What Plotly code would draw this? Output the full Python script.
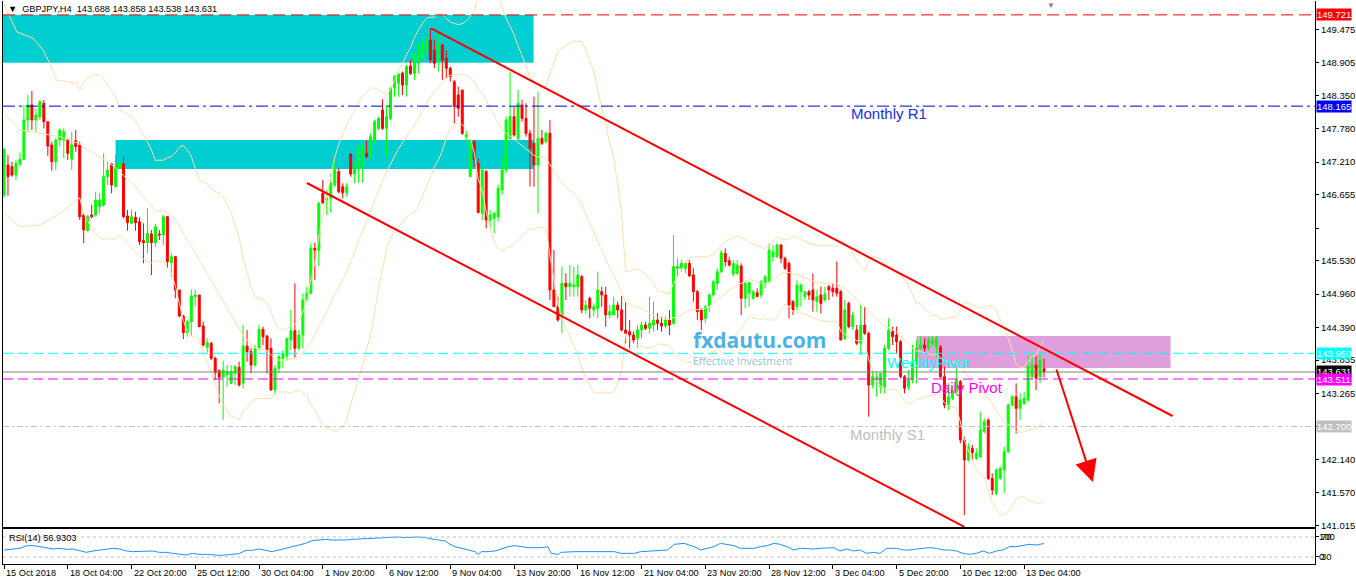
import numpy as np
import pandas as pd
import plotly.graph_objects as go

# ---------------- data (GBPJPY H4) ----------------
bar = list(range(262))
open_ = [
146.649,147.161,147.133,146.990,147.178,147.258,147.928,148.184,147.928,147.985,
148.213,147.900,147.502,147.218,147.587,147.587,147.587,147.258,147.576,147.502,
146.308,146.041,146.308,146.308,146.450,146.479,146.962,147.178,146.791,147.104,
147.178,146.291,146.166,146.268,146.195,145.871,145.837,145.984,145.837,145.984,
145.967,146.280,145.495,145.598,145.029,144.586,144.301,144.489,144.916,144.944,
144.415,144.051,144.120,143.864,143.653,143.540,143.580,143.437,143.608,143.710,
143.437,144.074,143.978,143.750,144.034,144.358,144.245,144.034,143.324,143.693,
143.864,143.904,144.176,144.336,144.034,144.262,144.859,144.972,145.740,145.711,
146.678,146.564,146.593,146.820,147.047,146.791,146.689,147.349,147.008,147.133,
147.332,147.360,147.303,147.559,147.786,148.099,147.786,147.957,148.469,148.554,
148.724,148.525,148.849,148.724,148.895,148.980,149.094,149.293,149.122,149.094,
149.208,148.980,148.810,148.582,148.355,148.440,147.644,146.962,147.559,147.189,
146.337,147.047,146.223,146.251,146.280,146.735,147.076,147.616,147.985,147.616,
148.184,147.957,147.701,147.531,147.161,147.616,147.559,147.701,145.029,144.745,
144.574,145.143,145.086,145.086,145.086,145.257,144.688,144.887,144.688,144.716,
145.001,144.944,144.603,144.603,144.773,144.688,144.347,144.319,144.262,144.205,
144.347,144.432,144.376,144.432,144.517,144.461,144.415,144.517,144.461,145.399,
145.399,145.399,145.484,145.285,145.000,144.688,144.545,144.756,144.943,145.142,
145.341,145.654,145.529,145.302,145.313,145.438,144.887,144.972,144.887,144.983,
144.943,145.131,145.171,145.597,145.597,145.796,145.569,145.483,144.830,144.744,
145.000,144.915,145.000,145.029,144.830,144.943,144.858,145.086,145.057,145.057,
145.000,144.204,144.801,144.403,144.346,144.119,144.432,144.290,143.408,143.494,
143.380,143.380,144.034,144.318,144.261,144.148,143.551,143.380,143.494,143.778,
144.034,144.091,144.034,144.119,144.062,144.051,143.551,143.067,143.181,143.295,
143.465,142.470,142.129,142.328,142.158,142.186,142.613,142.812,141.817,141.561,
141.817,141.959,142.272,143.067,143.209,143.011,143.096,143.153,143.551,143.750,
143.551,143.688]
high = [
147.450,147.332,147.218,147.246,147.377,148.184,148.355,148.423,148.127,148.270,
148.270,147.900,147.559,147.616,147.786,147.786,147.616,147.730,147.758,147.559,
146.337,146.308,146.479,146.706,146.678,147.360,147.218,147.189,147.332,147.587,
147.303,146.394,146.405,146.365,146.268,146.166,146.422,146.052,146.155,146.052,
146.308,146.291,145.654,145.598,145.029,144.603,144.518,145.041,145.029,144.944,
144.489,144.205,144.148,143.892,143.676,143.824,143.750,143.750,143.750,143.807,
144.432,144.347,144.034,144.091,144.432,144.404,144.262,144.205,143.750,143.921,
144.006,144.205,144.688,145.143,144.347,144.972,145.086,145.825,145.837,146.536,
146.905,146.735,147.019,147.258,147.104,146.848,146.848,147.360,147.218,147.485,
147.531,147.576,147.701,147.928,147.985,148.281,148.184,148.497,148.696,148.724,
148.753,148.867,148.952,149.065,149.236,149.236,149.350,149.492,149.293,149.407,
149.236,149.122,148.838,148.611,148.497,148.440,147.758,147.587,147.587,147.275,
147.133,147.076,146.394,146.365,146.820,147.303,147.985,148.753,148.156,148.440,
148.270,148.213,147.758,148.326,148.412,147.758,147.730,147.928,145.711,144.915,
145.427,145.313,145.456,145.427,145.456,145.285,144.859,144.915,144.802,145.342,
145.086,145.086,144.773,144.915,144.830,144.927,144.830,144.517,144.319,144.432,
144.489,144.489,144.915,144.830,144.631,144.574,144.574,144.688,145.967,145.569,
145.541,145.512,145.541,145.399,145.029,144.716,144.773,144.972,145.199,145.398,
145.711,145.739,145.597,145.540,145.540,145.483,145.171,145.171,145.029,145.057,
145.199,145.285,145.825,145.796,145.825,145.813,145.597,145.512,144.858,145.199,
145.142,145.000,145.029,145.313,145.029,145.086,145.086,145.114,145.142,145.512,
145.029,144.858,144.830,144.659,144.432,144.773,144.744,144.318,143.636,143.636,
143.607,144.091,144.545,144.403,144.403,144.176,143.579,143.664,144.091,144.176,
144.233,144.204,144.233,144.233,144.244,144.091,143.722,143.437,143.380,143.693,
143.494,142.527,142.414,142.385,142.328,142.954,142.840,142.840,141.902,141.987,
142.016,142.357,143.096,143.238,143.437,143.266,143.295,143.920,143.948,143.920,
143.960,143.858]
low = [
146.600,146.638,146.962,146.905,147.133,147.246,147.730,147.758,147.730,147.928,
147.786,147.315,147.064,147.076,147.474,147.275,147.246,147.076,147.388,146.223,
145.825,146.024,146.251,146.280,146.337,146.450,146.820,146.678,146.791,147.104,
146.251,146.041,146.155,146.041,145.797,145.484,145.654,145.285,145.768,145.882,
145.797,145.399,145.257,144.887,144.563,144.188,144.233,144.245,144.745,144.392,
144.063,143.960,143.835,143.494,143.096,142.812,143.380,143.426,143.409,143.380,
143.352,143.807,143.608,143.722,144.006,144.091,143.608,143.312,143.238,143.608,
143.693,143.835,144.006,143.864,144.006,144.034,144.830,144.972,145.200,145.438,
146.496,146.308,146.348,146.791,146.678,146.593,146.621,146.962,146.848,146.860,
146.860,147.275,147.275,147.531,147.758,147.758,147.303,147.928,148.326,148.326,
148.355,148.326,148.696,148.611,148.724,148.952,149.065,148.895,148.810,148.753,
148.611,148.639,148.582,147.872,147.985,147.673,147.559,146.962,147.133,146.348,
146.223,146.081,146.098,145.996,146.195,146.649,147.019,147.587,147.644,147.587,
147.900,147.644,146.791,146.791,146.337,147.502,147.531,144.859,144.745,144.489,
144.290,144.859,144.915,144.915,144.915,144.631,144.631,144.546,144.574,144.546,
144.745,144.404,144.546,144.603,144.546,144.319,144.120,144.034,144.120,144.034,
144.205,144.347,144.290,144.319,144.347,144.319,144.376,144.262,144.432,145.257,
145.342,145.313,145.257,144.830,144.517,144.346,144.460,144.659,144.915,145.029,
145.313,145.427,145.427,145.256,145.285,144.602,144.716,144.744,144.858,144.915,
144.887,145.057,145.142,145.512,145.569,145.483,145.370,144.545,144.602,144.688,
144.744,144.858,144.858,144.659,144.659,144.631,144.830,144.858,144.915,144.915,
144.176,144.176,144.375,144.346,144.091,143.920,144.261,142.868,143.352,143.209,
143.266,143.266,144.005,144.091,143.949,143.522,143.266,143.323,143.437,143.437,
144.005,143.977,144.005,144.062,143.892,143.522,143.011,142.982,143.153,143.238,
142.414,141.191,142.101,142.129,142.129,142.158,142.584,141.788,141.532,141.532,
141.788,141.561,142.243,143.039,142.584,142.812,143.067,143.124,143.494,143.323,
143.437,143.538]
close = [
147.428,146.962,146.990,147.189,147.258,147.928,148.184,147.928,148.014,148.241,
147.900,147.485,147.218,147.587,147.758,147.730,147.360,147.502,147.474,146.280,
146.052,146.280,146.280,146.564,146.564,146.962,147.076,146.820,147.133,147.189,
146.280,146.178,146.280,146.178,145.854,145.837,145.996,145.837,146.109,145.967,
146.280,145.512,145.598,145.029,144.586,144.301,144.489,144.927,144.944,144.404,
144.091,144.131,143.864,143.619,143.540,143.665,143.636,143.636,143.722,143.409,
144.074,143.978,143.750,144.034,144.358,144.233,144.006,143.324,143.693,143.892,
143.949,144.205,144.336,144.034,144.262,144.859,144.972,145.740,145.711,146.507,
146.519,146.593,146.848,147.076,146.706,146.689,146.791,147.008,147.178,147.462,
147.474,147.303,147.644,147.900,147.957,147.786,147.985,148.469,148.668,148.713,
148.525,148.838,148.724,149.065,149.179,149.236,149.321,148.952,148.895,149.208,
148.952,148.810,148.668,148.156,148.127,147.701,147.673,147.587,147.246,146.348,
147.076,146.223,146.308,146.337,146.763,147.076,147.928,147.985,147.673,148.213,
147.957,147.701,147.445,147.161,147.616,147.531,147.701,145.029,144.745,144.517,
145.143,145.086,145.143,145.114,145.285,144.688,144.773,144.716,144.745,145.029,
144.944,144.603,144.660,144.773,144.688,144.347,144.290,144.262,144.176,144.347,
144.432,144.376,144.461,144.517,144.461,144.415,144.517,144.432,145.427,145.427,
145.484,145.484,145.268,145.001,144.659,144.517,144.744,144.943,145.171,145.341,
145.665,145.512,145.455,145.483,145.455,144.887,145.142,145.154,145.000,144.915,
145.171,145.256,145.711,145.682,145.796,145.569,145.398,144.773,144.688,145.114,
145.114,145.000,144.943,144.858,144.915,144.801,144.960,145.029,145.000,144.972,
144.176,144.688,144.403,144.602,144.119,144.432,144.290,143.408,143.551,143.551,
143.607,144.034,144.346,144.233,144.148,143.551,143.352,143.494,143.778,144.034,
144.091,144.034,144.176,144.176,144.204,143.551,143.067,143.209,143.323,143.494,
142.470,142.129,142.357,142.254,142.243,142.641,142.783,141.817,141.618,141.959,
141.987,142.272,143.067,143.209,143.011,143.153,143.181,143.721,143.750,143.522,
143.835,143.631]
for _s in (open_, high, low, close):
    assert len(_s) == len(bar), len(_s)

# x-axis date labels (every 16 H4 bars)
date_tick_bars = [0, 16, 32, 48, 64, 80, 96, 112, 128, 144, 160, 176, 192, 208, 224, 240, 256]
date_tick_labels = ["15 Oct 2018", "18 Oct 04:00", "22 Oct 20:00", "25 Oct 12:00", "30 Oct 04:00",
                    "1 Nov 20:00", "6 Nov 12:00", "9 Nov 04:00", "13 Nov 20:00", "16 Nov 12:00",
                    "21 Nov 04:00", "23 Nov 20:00", "28 Nov 12:00", "3 Dec 04:00", "5 Dec 20:00",
                    "10 Dec 12:00", "13 Dec 04:00"]

# price scale ticks
price_ticks = [149.475, 148.905, 148.350, 147.780, 147.210, 146.655, 146.085, 145.530,
               144.960, 144.390, 143.835, 143.265, 142.700, 142.140, 141.570, 141.015]
price_tick_text = ["149.475", "148.905", "148.350", "147.780", "147.210", "146.655", "", "145.530",
                   "144.960", "144.390", "143.835", "143.265", "", "142.140", "141.570", "141.015"]

# RSI(14) line read from the indicator window
rsi_bar = [0, 2.3, 4, 5.7, 7.3, 9, 10.7, 12.3, 14, 15.7, 17.3, 19, 20.7, 22.3, 24, 25.7, 27.3, 29,
           30.7, 32.3, 34, 35.7, 37.3, 39, 40.7, 42.3, 44, 45.7, 47.3, 49, 50.7, 52.3, 54, 55.7,
           57.3, 59, 60.7, 62.3, 64, 65.7, 67.3, 69, 70.7, 72.3, 74, 75.7, 77.3, 79, 80.7, 82.3,
           84, 85.7, 87.3, 89, 90.7, 92.3, 94, 95.7, 97.3, 99, 100.7, 102.3, 104, 105.7, 107.3,
           109, 110.7, 111.5, 113.2, 114.8, 116.5, 118.2, 119, 119.8, 121.5, 123.2, 124.8, 126.5,
           128.2, 129.8, 131.5, 133.2, 134.8, 136.5, 137.3, 139, 139.8, 143.2, 146.5, 149.8, 153.2,
           154.8, 158.2, 159.8, 163.2, 166.5, 168.2, 170.7, 173.2, 174.8, 176.5, 178.2, 179.8,
           181.5, 183.2, 184.8, 186.5, 188.2, 189.8, 191.5, 193.2, 194.8, 196.5, 198.2, 199.8,
           201.5, 203.2, 204.8, 206.5, 208.2, 209.8, 211.5, 213.2, 214.8, 216.5, 218.2, 219.8,
           221.5, 223.2, 224, 225.7, 227.3, 229, 230.7, 232.3, 234, 235.7, 237.3, 239, 240.7,
           242.3, 244, 245.7, 247.3, 249, 250.7, 252.3, 254, 255.7, 257.3, 259, 260.7, 261]
rsi_val = [44, 45.3, 47.3, 52.7, 52.7, 50.7, 48.7, 46, 47.3, 45.3, 46, 42, 39.3, 42, 43.3, 45.3,
           47.3, 46, 42, 40.7, 40.7, 42, 42, 39.3, 39.3, 37.3, 35.3, 34, 37.3, 35.3, 35.3, 34,
           33.3, 34, 35.3, 36.7, 43.3, 43.3, 46, 44, 40.7, 44, 47.3, 50.7, 52.7, 57.3, 62.7, 64,
           65.3, 64, 63.3, 64, 65.3, 66, 67.3, 68.7, 69.3, 68.7, 70.7, 70, 68.7, 69.3, 70, 68.7,
           66, 64, 62, 57.3, 50.7, 47.3, 44, 40.7, 35.3, 40.7, 40.7, 42, 46, 50.7, 52.7, 50.7,
           48.7, 48.7, 48.7, 50.7, 37.3, 35.3, 39.3, 40.7, 40.7, 39.3, 40.7, 37.3, 37.3, 40.7,
           42, 44, 55.3, 57.3, 50.7, 44, 47.3, 50.7, 57.3, 55.3, 52.7, 47.3, 47.3, 47.3, 50.7,
           52.7, 57.3, 55.3, 50.7, 44, 47.3, 46, 46, 47.3, 48.7, 48.7, 42, 46, 42, 44, 37.3,
           39.3, 37.3, 47.3, 47.3, 47.3, 44, 44, 46, 47.3, 48.7, 47.3, 44, 44, 42, 37.3, 35.3,
           37.3, 42, 37.3, 42, 44, 50.7, 50.7, 52.7, 55.3, 54, 55.3, 56.93]
assert len(rsi_bar) == len(rsi_val), (len(rsi_bar), len(rsi_val))
rsi_levels = [70, 30]

# Bollinger band values visible before the first full 20-bar window
bb_lead_up_bar = [0, 1.9, 3.2, 7.3, 9.8, 11.5, 13.2, 18.2]
bb_lead_up_val = [149.90, 149.634, 149.434, 149.321, 149.122, 148.895, 148.610, 148.554]
bb_lead_mid_bar = [0, 4, 9, 14]
bb_lead_mid_val = [148.042, 147.758, 147.702, 147.645]
bb_lead_lo_bar = [0, 4, 9, 14, 17.3]
bb_lead_lo_val = [146.337, 146.108, 146.137, 146.337, 146.508]
bb_period, bb_dev = 20, 2

# horizontal levels: price, colour, dash, tag
level_price = [149.721, 148.165, 143.950, 143.631, 143.511, 142.700]
level_color = ["#FF0000", "#0000CD", "#00FFFF", "#808080", "#FF00FF", "#C0C0C0"]
level_tagcolor = ["#FF0000", "#0000FF", "#00FFFF", "#000000", "#FF00FF", "#C0C0C0"]
level_dash = ["12px,6px", "12px,4px,3px,4px", "10px,5px", "solid", "10px,5px", "6px,3px,2px,3px"]

# zones (bar from, bar to, price low, price high)
zone_x0 = [-0.25, 28.0, 229.0]
zone_x1 = [132.9, 132.9, 292.75]
zone_y0 = [148.906, 147.093, 143.699]
zone_y1 = [149.721, 147.587, 144.244]
zone_color = ["#00CED1", "#00CED1", "#DDA0DD"]

# channel lines (bar, price)
channel_x0 = [107.2, 76.0]
channel_y0 = [149.49, 146.854]
channel_x1 = [293.25, 241.0]
channel_y1 = [142.88, 140.99]
arrow_from = (264.0, 143.698)
arrow_to = (273.25, 141.754)

# ---------------- indicators ----------------
cs = pd.Series(close)
mid = cs.rolling(bb_period).mean()
sd = cs.rolling(bb_period).std(ddof=0)
up = mid + bb_dev * sd
lo = mid - bb_dev * sd
start = bb_period - 1
bb_up_x = bb_lead_up_bar + bar[start:]
bb_up_y = bb_lead_up_val + list(up[start:])
bb_mid_x = bb_lead_mid_bar + bar[start:]
bb_mid_y = bb_lead_mid_val + list(mid[start:])
bb_lo_x = bb_lead_lo_bar + bar[start:]
bb_lo_y = bb_lead_lo_val + list(lo[start:])

# ---------------- figure ----------------
FONT = "Tahoma, 'Liberation Sans', Arial, sans-serif"
XR = [-0.25, 329.0]
fig = go.Figure()

band_col = "#FFDEAD"
for xs, ys in ((bb_up_x, bb_up_y), (bb_mid_x, bb_mid_y), (bb_lo_x, bb_lo_y)):
    fig.add_trace(go.Scatter(x=xs, y=ys, mode="lines", line=dict(color=band_col, width=1),
                             hoverinfo="skip", xaxis="x", yaxis="y"))

fig.add_trace(go.Candlestick(
    x=bar, open=open_, high=high, low=low, close=close,
    increasing=dict(line=dict(color="#00FF00", width=1), fillcolor="#00FF00"),
    decreasing=dict(line=dict(color="#FF0000", width=1), fillcolor="#FF0000"),
    whiskerwidth=0, hoverinfo="skip", xaxis="x", yaxis="y"))

fig.add_trace(go.Scatter(x=rsi_bar, y=rsi_val, mode="lines",
                         line=dict(color="#1E90FF", width=1), hoverinfo="skip",
                         xaxis="x2", yaxis="y2"))

shapes = []
for x0, x1, y0, y1, c in zip(zone_x0, zone_x1, zone_y0, zone_y1, zone_color):
    shapes.append(dict(type="rect", xref="x", yref="y", x0=x0, x1=x1, y0=y0, y1=y1,
                       fillcolor=c, line=dict(width=0), layer="below"))
for p, c, d in zip(level_price, level_color, level_dash):
    shapes.append(dict(type="line", xref="paper", yref="y", x0=0, x1=1, y0=p, y1=p,
                       line=dict(color=c, width=1, dash=d)))
for x0, y0, x1, y1 in zip(channel_x0, channel_y0, channel_x1, channel_y1):
    shapes.append(dict(type="line", xref="x", yref="y", x0=x0, y0=y0, x1=x1, y1=y1,
                       line=dict(color="#FF0000", width=2)))
for lv in rsi_levels:
    shapes.append(dict(type="line", xref="paper", yref="y2", x0=0, x1=1, y0=lv, y1=lv,
                       line=dict(color="#C0C0C0", width=1, dash="3px,3px")))

ann = []
# price tags on the scale
for p, c in zip(level_price, level_tagcolor):
    ann.append(dict(xref="paper", yref="y", x=1, y=p, xanchor="left", yanchor="middle",
                    xshift=1, text=f"{p:.3f}", showarrow=False, bgcolor=c, borderpad=0,
                    font=dict(family=FONT, size=9.5, color="#FFFFFF")))
# date labels
for b, t in zip(date_tick_bars, date_tick_labels):
    ann.append(dict(xref="x2", yref="paper", x=b, y=-0.0035, xanchor="left", yanchor="top",
                    text=t, showarrow=False, font=dict(family=FONT, size=9.2, color="#000000")))
# title
ann.append(dict(xref="x", yref="y", x=0.6, y=149.82, xanchor="left", yanchor="middle",
                text="▼\u00a0 GBPJPY,H4\u00a0\u00a0143.688 143.858 143.538 143.631", showarrow=False,
                font=dict(family=FONT, size=9.2, color="#000000")))
ann.append(dict(xref="x", yref="y", x=262.75, y=149.88, xanchor="center", yanchor="middle",
                text="▼", showarrow=False, font=dict(family=FONT, size=8, color="#808080")))
# pivot labels
ann += [
    dict(xref="x", yref="y", x=222.2, y=148.031, text="Monthly R1", showarrow=False,
         font=dict(family="'Liberation Sans', Arial", size=15, color="#1432E6")),
    dict(xref="x", yref="y", x=221.6, y=142.573, text="Monthly S1", showarrow=False,
         font=dict(family="'Liberation Sans', Arial", size=15, color="#C0C0C0")),
    dict(xref="x", yref="y", x=231.9, y=143.801, text="WeeklyPivot", showarrow=False,
         font=dict(family="'Liberation Sans', Arial", size=15, color="#00FFFF")),
    dict(xref="x", yref="y", x=241.7, y=143.374, text="Daily Pivot", showarrow=False,
         font=dict(family="'Liberation Sans', Arial", size=15, color="#FF00FF")),
]
# watermark
ann += [
    dict(xref="x", yref="y", x=172.3, y=144.176, xanchor="left", yanchor="middle",
         text="<b>fxdautu.com</b>", showarrow=False,
         font=dict(family="'Open Sans', sans-serif", size=21, color="rgba(40,165,228,0.85)")),
    dict(xref="x", yref="y", x=172.5, y=143.817, xanchor="left", yanchor="middle",
         text="Effective Investment", showarrow=False,
         font=dict(family="'Open Sans', sans-serif", size=10.5, color="rgba(120,175,215,0.8)")),
]
# arrow
ann.append(dict(xref="x", yref="y", x=arrow_to[0], y=arrow_to[1], axref="x", ayref="y",
                ax=arrow_from[0], ay=arrow_from[1], text="", showarrow=True, arrowhead=2,
                arrowsize=2.2, arrowwidth=2, arrowcolor="#FF0000", standoff=0))
# RSI caption and scale labels
ann.append(dict(xref="x2", yref="y2", x=0.8, y=68, xanchor="left", yanchor="middle",
                text="RSI(14) 56.9303", showarrow=False,
                font=dict(family=FONT, size=9.2, color="#000000")))
for lv, extra in zip(rsi_levels, ["100", "0"]):
    ann.append(dict(xref="paper", yref="y2", x=1, y=lv, xanchor="left", yanchor="middle",
                    xshift=2, text=extra, showarrow=False,
                    font=dict(family=FONT, size=9.5, color="#000000")))

fig.update_layout(
    width=1356, height=581,
    margin=dict(l=3, r=36, t=1, b=17),
    paper_bgcolor="#FFFFFF", plot_bgcolor="#FFFFFF",
    showlegend=False, boxgap=0.3,
    shapes=shapes, annotations=ann,
    xaxis=dict(domain=[0, 1], range=XR, anchor="y", showline=True, linecolor="#000000",
               linewidth=1, mirror=False, showgrid=False, zeroline=False,
               showticklabels=False, ticks="", rangeslider=dict(visible=False), fixedrange=True),
    yaxis=dict(domain=[0.06572, 1], range=[140.987, 149.958], anchor="x", side="right",
               showline=True, mirror=True, linecolor="#000000", linewidth=1,
               ticks="outside", ticklen=3, tickcolor="#000000",
               tickvals=price_ticks, ticktext=price_tick_text,
               tickfont=dict(family=FONT, size=9.5, color="#000000"),
               showgrid=False, zeroline=False, fixedrange=True),
    xaxis2=dict(domain=[0, 1], range=XR, anchor="y2", showline=True, mirror=True,
                linecolor="#000000", linewidth=1, ticks="outside", ticklen=4,
                tickcolor="#000000", tickvals=date_tick_bars, showticklabels=False,
                showgrid=False, zeroline=False, fixedrange=True),
    yaxis2=dict(domain=[0, 0.06128], range=[16, 85], anchor="x2", side="right",
                showline=True, mirror=True, linecolor="#000000", linewidth=1,
                ticks="outside", ticklen=3, tickcolor="#000000",
                tickvals=rsi_levels, ticktext=["70", "30"],
                tickfont=dict(family=FONT, size=9.5, color="#000000"),
                showgrid=False, zeroline=False, fixedrange=True),
)

fig.write_html("out.html", config={"displayModeBar": False},
               post_script="document.body.style.margin='0px';document.body.style.overflow='hidden';")
